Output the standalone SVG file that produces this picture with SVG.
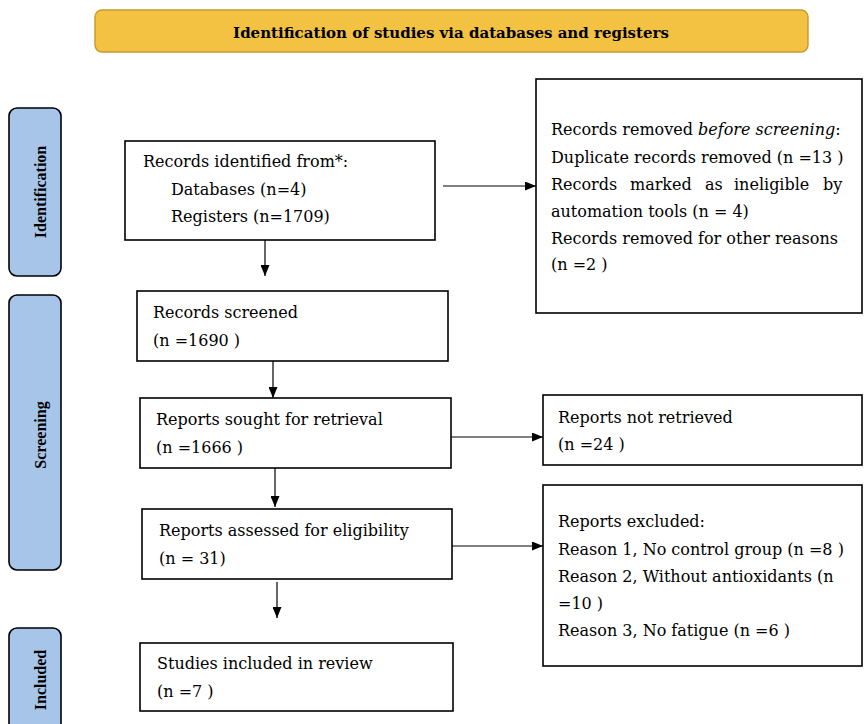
<svg xmlns="http://www.w3.org/2000/svg" width="864" height="724" viewBox="0 0 864 724">
<defs>
<marker id="ah" markerWidth="11" markerHeight="9" refX="11" refY="4.5" orient="auto" markerUnits="userSpaceOnUse">
<path d="M0,0 L11,4.5 L0,9 Z" fill="#000"/>
</marker>
<style>
.box{fill:#fff;stroke:#000;stroke-width:1.6}
.side{fill:#A7C5E8;stroke:#000;stroke-width:1.6}
.t{font-family:"DejaVu Serif","Liberation Serif",serif;font-size:16px;fill:#000}
.b{font-family:"DejaVu Serif","Liberation Serif",serif;font-size:15px;font-weight:bold;fill:#000}
.s{font-family:"Liberation Serif","DejaVu Serif",serif;font-size:16px;font-weight:bold;fill:#000}
.c{stroke:#000;stroke-width:1.2;fill:none}
</style>
</defs>
<rect width="864" height="724" fill="#fff"/>
<g id="title">
<rect x="95" y="10" width="713" height="42" rx="7" fill="#F4C242" stroke="#C49A2C" stroke-width="1.4"/>
<text class="b" x="451" y="38" text-anchor="middle">Identification of studies via databases and registers</text>
</g>
<g id="phase-identification">
<rect class="side" x="9" y="108" width="52" height="168" rx="8"/>
<text class="s" transform="translate(46,192) rotate(-90)" text-anchor="middle">Identification</text>
</g>
<g id="phase-screening">
<rect class="side" x="9" y="295" width="52" height="275" rx="8"/>
<text class="s" transform="translate(46,435) rotate(-90)" text-anchor="middle">Screening</text>
</g>
<g id="phase-included">
<rect class="side" x="9" y="628" width="52" height="110" rx="8"/>
<text class="s" transform="translate(46,680) rotate(-90)" text-anchor="middle">Included</text>
</g>
<g id="records-identified">
<rect class="box" x="125" y="141" width="310" height="99"/>
<text class="t" x="143" y="167">Records identified from*:</text>
<text class="t" x="171" y="195">Databases (n=4)</text>
<text class="t" x="171" y="222">Registers (n=1709)</text>
</g>
<g id="records-removed">
<rect class="box" x="536" y="79" width="326" height="234"/>
<text class="t" x="551" y="135">Records removed <tspan font-style="italic">before screening</tspan>:</text>
<text class="t" x="551" y="163">Duplicate records removed (n =13 )</text>
<text class="t" y="190"><tspan x="551">Records</tspan><tspan x="630">marked</tspan><tspan x="705">as</tspan><tspan x="734">ineligible</tspan><tspan x="823">by</tspan></text>
<text class="t" x="551" y="217">automation tools (n = 4)</text>
<text class="t" x="551" y="244">Records removed for other reasons</text>
<text class="t" x="551" y="270">(n =2 )</text>
</g>
<g id="records-screened">
<rect class="box" x="137" y="291" width="311" height="70"/>
<text class="t" x="153" y="318">Records screened</text>
<text class="t" x="153" y="346">(n =1690 )</text>
</g>
<g id="reports-sought">
<rect class="box" x="140" y="398" width="311" height="70"/>
<text class="t" x="156" y="425">Reports sought for retrieval</text>
<text class="t" x="156" y="453">(n =1666 )</text>
</g>
<g id="reports-not-retrieved">
<rect class="box" x="543" y="395" width="319" height="70"/>
<text class="t" x="558" y="423">Reports not retrieved</text>
<text class="t" x="558" y="450">(n =24 )</text>
</g>
<g id="reports-assessed">
<rect class="box" x="142" y="509" width="310" height="70"/>
<text class="t" x="159" y="536">Reports assessed for eligibility</text>
<text class="t" x="159" y="564">(n = 31)</text>
</g>
<g id="reports-excluded">
<rect class="box" x="543" y="485" width="319" height="181"/>
<text class="t" x="558" y="527">Reports excluded:</text>
<text class="t" x="558" y="555">Reason 1, No control group (n =8 )</text>
<text class="t" x="558" y="582">Reason 2, Without antioxidants (n</text>
<text class="t" x="558" y="609">=10 )</text>
<text class="t" x="558" y="636">Reason 3, No fatigue (n =6 )</text>
</g>
<g id="studies-included">
<rect class="box" x="140" y="643" width="313" height="68"/>
<text class="t" x="157" y="669">Studies included in review</text>
<text class="t" x="157" y="697">(n =7 )</text>
</g>
<g id="connectors">
<line class="c" x1="443" y1="186" x2="536" y2="186" marker-end="url(#ah)"/>
<line class="c" x1="265" y1="240" x2="265" y2="276" marker-end="url(#ah)"/>
<line class="c" x1="273" y1="361" x2="273" y2="398" marker-end="url(#ah)"/>
<line class="c" x1="451" y1="437" x2="543" y2="437" marker-end="url(#ah)"/>
<line class="c" x1="275" y1="468" x2="275" y2="507" marker-end="url(#ah)"/>
<line class="c" x1="452" y1="546" x2="543" y2="546" marker-end="url(#ah)"/>
<line class="c" x1="277" y1="582" x2="277" y2="618" marker-end="url(#ah)"/>
</g>
</svg>
